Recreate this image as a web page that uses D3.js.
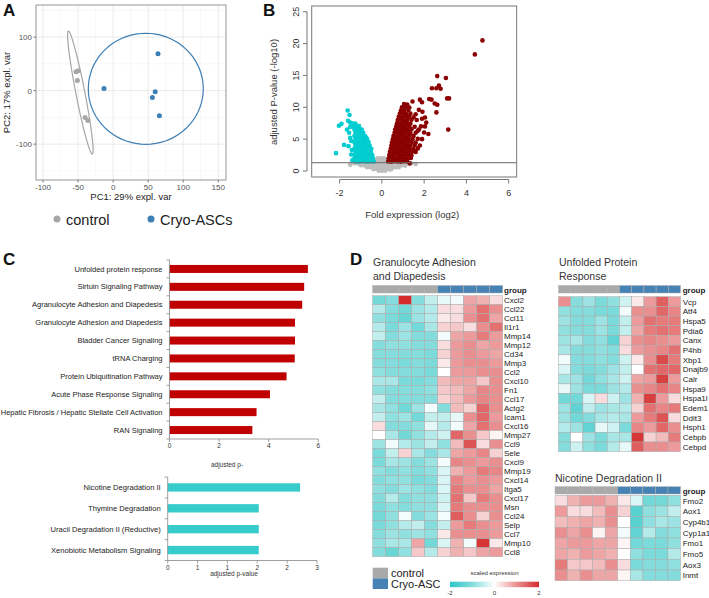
<!DOCTYPE html>
<html><head><meta charset="utf-8">
<script src="https://cdn.jsdelivr.net/npm/d3@7"></script>
<style>body{margin:0;background:#fff} text{font-family:"Liberation Sans",Arial,sans-serif}</style>
</head><body><svg id="fig" width="709" height="598"></svg>
<script>
// ---------------- DATA ----------------
// Panel A: PCA
const pcaControl = [[-53,35.5],[-50,37],[-51,19],[-40,-50],[-36,-56]];
const pcaCryo = [[-13,4],[64,69],[60,-2],[56,-13],[66,-47]];
const pcaEllipses = [
  {group:"control", cx:-46.8, cy:-3.5, ux:-17.1, uy:115, vx:6.3, vy:1.6},
  {group:"Cryo-ASCs", cx:46.6, cy:3.4, ux:82, uy:0, vx:0, vy:103.7}
];
const pcaXTicks = [-100,-50,0,50,100,150];
const pcaXMinor = [-75,-25,25,75,125];
const pcaYTicks = [-100,0,100];
const pcaYMinor = [-150,-50,50,150];
const pcaGroups = ["control","Cryo-ASCs"];

// Panel B: volcano
const volcanoNS = [
[-1.3,1.2],[-1.15,1.2],[-1.0,1.15],[-0.85,1.2],[-0.7,1.2],[-0.55,1.15],[-0.4,1.2],[-0.25,1.2],[-0.1,1.15],[0.05,1.2],[0.2,1.2],[0.35,1.15],[0.5,1.2],[0.65,1.2],[0.8,1.15],[0.95,1.2],[1.1,1.2],[1.25,1.15],[1.4,1.2],
[-1.0,0.9],[-0.85,0.9],[-0.7,0.85],[-0.55,0.9],[-0.4,0.9],[-0.25,0.85],[-0.1,0.9],[0.05,0.9],[0.2,0.85],[0.35,0.9],[0.5,0.9],[0.65,0.85],[0.8,0.9],[0.95,0.9],[1.1,0.85],
[-0.7,0.6],[-0.55,0.6],[-0.4,0.55],[-0.25,0.6],[-0.1,0.6],[0.05,0.55],[0.2,0.6],[0.35,0.6],[0.5,0.55],[0.65,0.6],[0.8,0.6],
[-0.4,0.3],[-0.25,0.3],[-0.1,0.25],[0.05,0.3],[0.2,0.3],[0.35,0.25],[0.45,0.3],
[-0.15,0.05],[0,0.05],[0.15,0.05],
[-0.3,1.6],[-0.15,1.6],[0,1.55],[0.15,1.6],[-0.2,2.0],[-0.05,2.0],[0.1,2.0],[-1.5,1.0],[1.6,1.1]
];
const volcanoDown = [
[-2.17,2.8],[-2.03,7.1],[-1.91,7.4],[-1.62,9.5],[-1.53,8.8],[-1.6,7.9],[-1.79,4.1],[-1.65,6.5],[-1.55,6.0],[-1.5,5.2],[-1.45,4.7],[-1.45,2.6],[-1.42,3.3],[-1.58,3.9],[-1.4,1.7],[-1.5,6.9],[-1.35,7.3],[-1.5,7.6],
[-1.25,1.5],[-1.1,1.45],[-0.95,1.55],[-0.8,1.5],[-0.65,1.45],[-0.5,1.55],[-0.38,1.5],
[-1.3,2.0],[-1.15,2.05],[-1.0,1.95],[-0.85,2.0],[-0.7,2.05],[-0.55,1.95],[-0.42,2.0],
[-1.28,2.5],[-1.12,2.45],[-0.97,2.55],[-0.82,2.5],[-0.68,2.45],[-0.55,2.55],[-0.45,2.5],
[-1.25,3.0],[-1.1,3.05],[-0.95,2.95],[-0.8,3.0],[-0.66,3.05],[-0.52,3.0],
[-1.3,3.5],[-1.15,3.45],[-1.0,3.55],[-0.86,3.5],[-0.72,3.45],[-0.6,3.55],[-0.5,3.5],
[-1.25,4.0],[-1.1,4.05],[-0.95,3.95],[-0.8,4.0],[-0.68,4.05],[-0.58,4.0],
[-1.3,4.5],[-1.15,4.45],[-1.0,4.55],[-0.88,4.5],[-0.75,4.45],[-0.63,4.55],
[-1.25,5.0],[-1.1,5.05],[-0.96,4.95],[-0.83,5.0],[-0.7,5.05],
[-1.3,5.5],[-1.15,5.45],[-1.02,5.55],[-0.9,5.5],[-0.78,5.45],
[-1.25,6.0],[-1.12,6.05],[-1.0,5.95],[-0.88,6.0],
[-1.3,6.5],[-1.18,6.45],[-1.05,6.55],[-0.95,6.5],
[-1.35,7.0],[-1.2,6.95],[-1.08,7.05],
[-1.4,7.5],[-1.25,7.45]
];
const volcanoUp = [
[0.3,1.5],[0.45,1.45],[0.6,1.55],[0.75,1.5],[0.9,1.45],[1.05,1.55],[1.2,1.5],[1.32,1.2],
[0.32,2.0],[0.47,2.05],[0.62,1.95],[0.77,2.0],[0.92,2.05],[1.07,1.95],[1.22,2.0],[1.37,2.05],
[0.35,2.5],[0.5,2.45],[0.65,2.55],[0.8,2.5],[0.95,2.45],[1.1,2.55],[1.25,2.5],[1.4,2.45],
[0.38,3.0],[0.53,3.05],[0.68,2.95],[0.83,3.0],[0.98,3.05],[1.13,2.95],[1.28,3.0],[1.43,3.05],[1.6,3.0],
[0.42,3.5],[0.57,3.45],[0.72,3.55],[0.87,3.5],[1.02,3.45],[1.17,3.55],[1.32,3.5],[1.5,3.45],[1.7,3.55],
[0.45,4.0],[0.6,4.05],[0.75,3.95],[0.9,4.0],[1.05,4.05],[1.2,3.95],[1.35,4.0],[1.55,4.05],[1.8,4.0],
[0.48,4.5],[0.63,4.45],[0.78,4.55],[0.93,4.5],[1.08,4.45],[1.23,4.55],[1.4,4.5],[1.6,4.45],
[0.52,5.0],[0.67,5.05],[0.82,4.95],[0.97,5.0],[1.12,5.05],[1.27,4.95],[1.45,5.0],[1.7,5.05],[1.9,5.0],
[0.55,5.5],[0.7,5.45],[0.85,5.55],[1.0,5.5],[1.15,5.45],[1.3,5.55],[1.5,5.5],
[0.6,6.0],[0.75,6.05],[0.9,5.95],[1.05,6.0],[1.2,6.05],[1.35,5.95],[1.6,6.0],[2.0,6.05],
[0.63,6.5],[0.78,6.45],[0.93,6.55],[1.08,6.5],[1.23,6.45],[1.4,6.55],[1.75,6.5],
[0.68,7.0],[0.83,7.05],[0.98,6.95],[1.13,7.0],[1.3,7.05],[1.55,6.95],[1.85,7.0],
[0.72,7.5],[0.87,7.45],[1.02,7.55],[1.18,7.5],[1.35,7.45],
[0.75,8.0],[0.9,8.05],[1.05,7.95],[1.2,8.0],[1.4,8.05],[1.65,8.0],
[0.8,8.5],[0.95,8.45],[1.1,8.55],[1.28,8.5],[1.5,8.45],
[0.85,9.0],[1.0,9.05],[1.15,8.95],[1.35,9.0],
[0.9,9.5],[1.05,9.45],[1.25,9.55],
[0.95,10.0],[1.12,10.05],[1.3,9.95],
[1.05,10.5],[1.2,10.45],
[1.9,10.8],[1.75,9.6],[1.6,8.9],[1.9,8.2],[2.1,7.6],[1.45,10.9],[1.7,6.3],[2.2,5.8],[1.80,11.2],[1.92,9.3],[2.04,8.4],[2.04,7.0],[2.24,11.3],[2.35,11.2],[2.50,10.6],[2.37,13.0],[2.58,13.0],[2.70,13.4],[2.78,12.9],[2.62,14.9],[3.03,14.6],[3.09,11.4],[3.18,11.4],[2.58,9.2],[2.62,10.4],[3.14,6.5],[4.40,18.3],[4.76,20.5]
];
const volcanoThreshold = 1.3;
const volcanoXTicks = [-2,0,2,4,6];
const volcanoYTicks = [0,5,10,15,20,25];

// Panel C: pathway enrichment
const pathwaysUp = ["Unfolded protein response","Sirtuin Signaling Pathway","Agranulocyte Adhesion and Diapedesis","Granulocyte Adhesion and Diapedesis","Bladder Cancer Signaling","tRNA Charging","Protein Ubiquitination Pathway","Acute Phase Response Signaling","Hepatic Fibrosis / Hepatic Stellate Cell Activation","RAN Signaling"];
const pathwaysUpValues = [5.58,5.43,5.35,5.06,5.06,5.05,4.72,4.05,3.51,3.34];
const pathwaysUpTicks = [0,2,4,6];
const pathwaysDown = ["Nicotine Degradation II","Thymine Degradation","Uracil Degradation II (Reductive)","Xenobiotic Metabolism Signaling"];
const pathwaysDownValues = [2.66,1.83,1.83,1.83];
const pathwaysDownTicks = [0,0.6,1.2,1.8,2.4,3.0];

// Panel D: heatmaps
const samples = ["ctl1","ctl2","ctl3","ctl4","ctl5","cryo1","cryo2","cryo3","cryo4","cryo5"];
const sampleGroups = ["control","control","control","control","control","Cryo-ASC","Cryo-ASC","Cryo-ASC","Cryo-ASC","Cryo-ASC"];
const granulocyteGenes = ["Cxcl2","Ccl22","Ccl11","Il1r1","Mmp14","Mmp12","Cd34","Mmp3","Ccl2","Cxcl10","Fn1","Ccl17","Actg2","Icam1","Cxcl16","Mmp27","Ccl9","Sele","Cxcl9","Mmp19","Cxcl14","Itga5","Cxcl17","Msn","Ccl24","Selp","Ccl7","Mmp10","Ccl8"];
const granulocyteExpr = [
[-1.2,-1.0,2.2,-1.0,-0.5,-0.2,-0.1,0.8,0.7,0.3],
[-0.6,-1.0,-1.2,-0.8,-0.6,0.3,0.3,0.9,1.3,1.0],
[-0.9,-1.1,-1.3,-0.8,-0.6,0.2,0.3,1.0,1.3,0.8],
[-0.6,-1.1,-0.8,-1.2,-0.7,0.4,0.5,0.3,1.0,1.3],
[-0.5,-1.0,-0.8,-1.0,-1.0,-0.1,0.8,0.9,1.2,0.9],
[-1.0,-0.9,-0.9,-1.0,-1.0,0.3,0.9,1.0,0.8,0.9],
[-1.0,-1.0,-1.0,-1.0,-1.1,0.4,0.9,1.0,0.9,0.8],
[-1.0,-1.0,-1.1,-1.0,-1.1,0.2,0.9,1.0,1.0,0.9],
[-0.9,-1.0,-1.0,-1.0,-1.1,0.0,0.9,0.9,1.0,1.0],
[-0.7,-0.7,-1.1,-1.1,-1.0,0.6,0.8,0.8,0.5,1.0],
[-0.9,-1.0,-1.0,-1.0,-0.9,0.5,0.6,0.8,1.1,1.0],
[-0.5,-1.0,-1.0,-1.0,-1.0,0.4,0.6,0.9,1.1,1.0],
[-0.7,-0.9,-1.2,-0.8,-0.1,-1.0,0.6,0.4,1.4,1.0],
[-0.5,-0.9,-0.8,-1.2,-0.5,-0.5,-0.2,1.0,1.4,0.9],
[0.3,-1.0,-1.0,-0.9,-0.2,-0.6,-0.1,0.8,1.3,1.0],
[0.0,-0.7,-1.2,-0.9,-0.6,-0.4,1.4,1.0,0.5,0.1],
[-0.8,-0.1,-0.6,-0.8,-0.5,-0.9,0.6,1.6,0.3,1.0],
[-1.1,-0.5,0.4,-0.7,-1.0,-0.7,0.8,0.9,1.1,0.4],
[-1.1,-0.7,-0.8,-1.0,-0.8,-0.1,1.1,1.0,0.9,1.0],
[-0.9,-1.0,-0.9,-1.0,-0.9,-0.3,0.7,0.9,1.2,1.1],
[-1.0,-0.9,-0.9,-1.1,-1.0,-0.3,1.1,0.9,1.0,0.9],
[-0.9,-1.0,-0.8,-0.9,-1.0,-0.3,1.2,1.0,1.0,0.8],
[-1.0,-0.6,-1.0,-0.9,-0.9,-0.4,1.3,0.5,1.2,1.0],
[-1.1,-0.9,-1.0,-0.9,-0.9,-0.3,1.2,1.0,1.0,1.0],
[-1.2,-0.9,-0.1,-1.0,-0.8,-0.1,1.5,1.0,0.4,1.0],
[-1.1,-0.9,-0.6,-0.5,-1.0,-0.5,0.9,1.2,1.0,0.9],
[-1.0,-0.8,-0.9,-0.8,-0.9,0.2,1.0,1.0,1.0,0.9],
[-0.9,-0.7,-0.7,0.8,-1.2,-0.3,0.7,-0.1,1.9,0.2],
[-1.0,-1.3,-0.9,0.5,-0.6,0.4,0.7,0.5,0.8,0.9]
];
const unfoldedGenes = ["Vcp","Atf4","Hspa5","Pdia6","Canx","P4hb","Xbp1","Dnajb9","Calr","Hspa9","Hspa1l","Edem1","Ddit3","Hsph1","Cebpb","Cebpd"];
const unfoldedExpr = [
[1.0,-1.0,-0.8,-1.1,-0.9,-0.4,0.2,0.9,1.5,0.9],
[-0.9,-1.0,-1.0,-1.1,-1.1,-0.1,1.0,1.0,1.4,1.1],
[-0.8,-1.0,-1.0,-0.8,-1.1,-0.5,0.9,1.3,1.2,1.2],
[-0.9,-1.0,-1.0,-0.8,-1.1,-0.5,0.8,1.2,1.3,1.2],
[-0.8,-0.7,-1.0,-0.9,-1.4,0.4,1.0,1.1,1.0,0.9],
[-0.7,-1.0,-1.0,-0.9,-1.0,0.3,0.9,1.0,1.1,1.3],
[-0.1,-1.0,-1.0,-0.9,-1.0,-0.4,0.2,1.0,1.7,1.2],
[-0.3,-1.0,-1.1,-1.0,-0.8,-0.5,0.0,1.3,1.4,1.4],
[-0.7,-0.8,-1.2,-0.9,-0.7,-0.4,0.8,0.9,1.8,0.9],
[-0.2,-0.8,-1.1,-1.1,-0.8,-0.6,1.0,1.1,1.3,1.1],
[-1.2,-1.2,-0.3,0.3,-0.4,-0.8,0.7,1.8,0.9,0.3],
[-0.8,-1.4,-0.5,-0.8,-0.7,-0.6,0.4,1.3,1.1,1.2],
[-0.8,-1.2,-1.0,-0.7,-0.6,-0.7,0.9,1.2,1.6,0.3],
[-0.6,-0.8,-1.4,-0.2,-0.4,-1.1,1.1,0.9,1.4,1.0],
[-1.0,0.0,-0.8,-1.1,-0.7,-0.7,1.9,0.4,0.6,1.2],
[-1.0,-0.4,-0.9,-1.1,-0.6,-0.2,1.5,1.0,1.0,0.9]
];
const nicotineGenes = ["Fmo2","Aox1","Cyp4b1","Cyp1a1","Fmo1","Fmo5","Aox3","Inmt"];
const nicotineExpr = [
[0.3,0.7,0.9,0.9,0.7,0.2,-0.3,-1.2,-1.2,-0.9],
[0.9,0.3,0.3,0.6,1.0,0.4,-1.5,-0.9,-0.8,-0.5],
[0.6,0.7,0.8,0.7,1.0,0.0,-1.5,-0.9,-0.7,-0.8],
[1.0,0.8,1.0,0.1,0.8,-0.1,-1.4,-0.6,-1.0,-0.9],
[0.8,0.9,0.9,0.8,0.8,0.1,-1.2,-1.1,-1.1,-0.9],
[0.8,0.7,0.9,0.8,0.7,0.0,-0.9,-1.1,-1.1,-0.6],
[1.2,0.5,0.5,0.6,1.0,0.3,-1.1,-1.0,-1.0,-0.9],
[1.0,0.7,1.0,0.8,0.8,0.1,-0.7,-1.0,-1.0,-1.0]
];
const legendGroups = ["control","Cryo-ASC"];
const scaleLegendTicks = [-2,0,2];

// ---------------- DRAW ----------------
const svg = d3.select("#fig");
function lbl(t,x,y,size){svg.append("text").attr("x",x).attr("y",y).attr("font-size",size).attr("font-weight","bold").attr("fill","#111").text(t);}
lbl("A",3,16,17); lbl("B",263,16,17); lbl("C",3,265,17); lbl("D",350,265,17);

// ---- Panel A ----
(function(){
  const g = svg.append("g");
  const x = d3.scaleLinear([-110,161],[36,226]);
  const y = d3.scaleLinear([-167,160],[180,5]);
  const [x0,x1] = x.range(), [y1,y0] = y.range();
  g.selectAll(".gmx").data(pcaXMinor).join("line").attr("x1",x).attr("x2",x).attr("y1",y0).attr("y2",y1).attr("stroke","#f3f3f3").attr("stroke-width",0.6);
  g.selectAll(".gmy").data(pcaYMinor).join("line").attr("y1",y).attr("y2",y).attr("x1",x0).attr("x2",x1).attr("stroke","#f3f3f3").attr("stroke-width",0.6);
  g.selectAll(".gMx").data(pcaXTicks).join("line").attr("x1",x).attr("x2",x).attr("y1",y0).attr("y2",y1).attr("stroke","#e6e6e6").attr("stroke-width",0.8);
  g.selectAll(".gMy").data(pcaYTicks).join("line").attr("y1",y).attr("y2",y).attr("x1",x0).attr("x2",x1).attr("stroke","#e6e6e6").attr("stroke-width",0.8);
  g.append("rect").attr("x",x0).attr("y",y0).attr("width",x1-x0).attr("height",y1-y0).attr("fill","none").attr("stroke","#8a8a8a").attr("stroke-width",0.9);
  g.selectAll(".tx").data(pcaXTicks).join("line").attr("x1",x).attr("x2",x).attr("y1",y1).attr("y2",y1+2.5).attr("stroke","#777");
  g.selectAll(".txl").data(pcaXTicks).join("text").attr("x",x).attr("y",y1+9.5).attr("text-anchor","middle").attr("font-size",8).attr("fill","#555").text(d=>d);
  g.selectAll(".ty").data(pcaYTicks).join("line").attr("y1",y).attr("y2",y).attr("x1",x0-2.5).attr("x2",x0).attr("stroke","#777");
  g.selectAll(".tyl").data(pcaYTicks).join("text").attr("x",x0-4).attr("y",d=>y(d)+3).attr("text-anchor","end").attr("font-size",8).attr("fill","#555").text(d=>d);
  g.append("text").attr("x",(x0+x1)/2).attr("y",200).attr("text-anchor","middle").attr("font-size",9.5).attr("fill","#222").text("PC1: 29% expl. var");
  g.append("text").attr("transform",`translate(10,${(y0+y1)/2}) rotate(-90)`).attr("text-anchor","middle").attr("font-size",9.5).attr("fill","#222").text("PC2: 17% expl. var");
  const col = d3.scaleOrdinal(pcaGroups,["#a6a6a6","#3d7fb5"]);
  const line = d3.line().x(d=>x(d[0])).y(d=>y(d[1]));
  pcaEllipses.forEach(e=>{
    const pts = d3.range(0,73).map(i=>{const t=i/72*2*Math.PI;return [e.cx+Math.cos(t)*e.ux+Math.sin(t)*e.vx, e.cy+Math.cos(t)*e.uy+Math.sin(t)*e.vy];});
    g.append("path").attr("d",line(pts)).attr("fill","none").attr("stroke",col(e.group)).attr("stroke-width",1.2);
  });
  g.selectAll(".pc").data(pcaControl).join("circle").attr("cx",d=>x(d[0])).attr("cy",d=>y(d[1])).attr("r",2.5).attr("fill",col("control"));
  g.selectAll(".pcr").data(pcaCryo).join("circle").attr("cx",d=>x(d[0])).attr("cy",d=>y(d[1])).attr("r",2.5).attr("fill",col("Cryo-ASCs"));
  const lx = d3.scaleOrdinal(pcaGroups,[57,151]);
  g.selectAll(".ld").data(pcaGroups).join("circle").attr("cx",lx).attr("cy",219).attr("r",3.5).attr("fill",col);
  g.selectAll(".lt").data(pcaGroups).join("text").attr("x",d=>lx(d)+9).attr("y",224.5).attr("font-size",14.5).attr("fill","#222").text(d=>d);
})();

// ---- Panel B ----
(function(){
  const g = svg.append("g");
  const x = d3.scaleLinear([-3.32,6.38],[311.7,516.7]);
  const y = d3.scaleLinear([-0.94,25.9],[177,6]);
  const [x0,x1] = x.range(), [y1,y0] = y.range();
  const pts = (data,c)=>g.append("g").selectAll("circle").data(data).join("circle").attr("cx",d=>x(d[0])).attr("cy",d=>y(d[1])).attr("r",2.3).attr("fill",c);
  pts(volcanoNS,"#bebebe"); pts(volcanoDown,"#00cdd0"); pts(volcanoUp,"#8b0000");
  g.append("line").attr("x1",x0).attr("x2",x1).attr("y1",y(volcanoThreshold)).attr("y2",y(volcanoThreshold)).attr("stroke","#666").attr("stroke-width",1);
  g.append("rect").attr("x",x0).attr("y",y0).attr("width",x1-x0).attr("height",y1-y0).attr("fill","none").attr("stroke","#777").attr("stroke-width",1);
  const ax = 307, ay = 179.5;
  g.append("line").attr("x1",ax).attr("x2",ax).attr("y1",y(volcanoYTicks[0])).attr("y2",y(volcanoYTicks[volcanoYTicks.length-1])).attr("stroke","#777");
  g.selectAll(".yt").data(volcanoYTicks).join("line").attr("x1",ax-4).attr("x2",ax).attr("y1",y).attr("y2",y).attr("stroke","#777");
  g.selectAll(".ytl").data(volcanoYTicks).join("text").attr("transform",d=>`translate(299,${y(d)}) rotate(-90)`).attr("text-anchor","middle").attr("font-size",9).attr("fill","#333").text(d=>d);
  g.append("line").attr("y1",ay).attr("y2",ay).attr("x1",x(volcanoXTicks[0])).attr("x2",x(volcanoXTicks[volcanoXTicks.length-1])).attr("stroke","#777");
  g.selectAll(".xt").data(volcanoXTicks).join("line").attr("y1",ay).attr("y2",ay+4).attr("x1",x).attr("x2",x).attr("stroke","#777");
  g.selectAll(".xtl").data(volcanoXTicks).join("text").attr("x",x).attr("y",196).attr("text-anchor","middle").attr("font-size",9).attr("fill","#333").text(d=>d);
  g.append("text").attr("x",(x0+x1)/2-2).attr("y",218).attr("text-anchor","middle").attr("font-size",9.5).attr("fill","#333").text("Fold expression (log2)");
  g.append("text").attr("transform",`translate(277,92) rotate(-90)`).attr("text-anchor","middle").attr("font-size",9.5).attr("fill","#333").text("adjusted P-value (-log10)");
})();

// ---- Panel C ----
function barChart(cats, vals, ticks, xr, yr, pin, color, fs, tickFmt){
  const g = svg.append("g");
  const x = d3.scaleLinear([ticks[0],ticks[ticks.length-1]], xr);
  const y = d3.scaleBand(cats, yr).paddingInner(pin).paddingOuter(pin/2);
  g.selectAll("rect").data(cats).join("rect").attr("x",x(0)).attr("y",d=>y(d)).attr("height",y.bandwidth()).attr("width",(d,i)=>x(vals[i])-x(0)).attr("fill",color);
  g.append("line").attr("x1",x(0)).attr("x2",x(0)).attr("y1",yr[0]).attr("y2",yr[1]).attr("stroke","#888").attr("stroke-width",0.8);
  const bounds = d3.range(cats.length+1).map(i=>yr[0]+i*y.step());
  g.selectAll(".yt").data(bounds).join("line").attr("x1",x(0)-3).attr("x2",x(0)).attr("y1",d=>d).attr("y2",d=>d).attr("stroke","#888").attr("stroke-width",0.8);
  g.selectAll(".cl").data(cats).join("text").attr("x",x(0)-7).attr("y",d=>y(d)+y.bandwidth()/2+2.6).attr("text-anchor","end").attr("font-size",fs).attr("fill","#222").text(d=>d);
  g.append("line").attr("x1",xr[0]).attr("x2",xr[1]).attr("y1",yr[1]).attr("y2",yr[1]).attr("stroke","#888").attr("stroke-width",0.8);
  g.selectAll(".xt").data(ticks).join("line").attr("x1",x).attr("x2",x).attr("y1",yr[1]).attr("y2",yr[1]+3).attr("stroke","#888").attr("stroke-width",0.8);
  g.selectAll(".xtl").data(ticks).join("text").attr("x",x).attr("y",yr[1]+9).attr("text-anchor","middle").attr("font-size",6.5).attr("fill","#333").text(tickFmt);
  return x;
}
barChart(pathwaysUp, pathwaysUpValues, pathwaysUpTicks, [169.5,318.3],[260,439],0.553,"#c00000",7.5,d=>d);
svg.append("text").attr("x",227).attr("y",467).attr("text-anchor","middle").attr("font-size",6.5).attr("fill","#333").text("adjusted p-");
barChart(pathwaysDown, pathwaysDownValues, pathwaysDownTicks, [167.7,317],[477,560.5],0.6,"#36cccc",7.6,d3.format(".0f"));
svg.append("text").attr("x",234).attr("y",576).attr("text-anchor","middle").attr("font-size",6.5).attr("fill","#333").text("adjusted p-value");

// ---- Panel D ----
const heatColor = d3.scaleLinear([-2,-1,0,1,2],["#2cc6c6","#84dcdc","#ffffff","#ea8f90","#d42c2c"]).clamp(true);
const groupColor = d3.scaleOrdinal(legendGroups,["#a9a9a9","#4682b4"]);
function heatmap(genes, expr, xr, yr, gy, labelX, title, tx, ty, lsize){
  const g = svg.append("g");
  const x = d3.scaleBand(samples, xr);
  const y = d3.scaleBand(genes, yr);
  g.selectAll(".gb").data(samples).join("rect").attr("x",x).attr("y",gy[0]).attr("width",x.bandwidth()).attr("height",gy[1]-gy[0]).attr("fill",(d,i)=>groupColor(sampleGroups[i])).attr("stroke","#b0b0b0").attr("stroke-width",0.5);
  g.append("text").attr("x",labelX).attr("y",gy[1]-0.5).attr("font-size",8).attr("font-weight","bold").attr("fill","#222").text("group");
  const cells = genes.flatMap((gn,r)=>samples.map((s,c)=>({gn,s,v:expr[r][c]})));
  g.selectAll(".c").data(cells).join("rect").attr("x",d=>x(d.s)).attr("y",d=>y(d.gn)).attr("width",x.bandwidth()).attr("height",y.bandwidth()).attr("fill",d=>heatColor(d.v)).attr("stroke","#aaaaaa").attr("stroke-width",0.5);
  g.selectAll(".rl").data(genes).join("text").attr("x",labelX).attr("y",d=>y(d)+y.bandwidth()/2+3).attr("font-size",lsize).attr("fill","#222").text(d=>d);
  title.forEach((t,i)=>g.append("text").attr("x",tx).attr("y",ty+i*13.5).attr("font-size",10.5).attr("fill","#333").text(t));
}
heatmap(granulocyteGenes, granulocyteExpr, [372.7,502.7],[295.7,556.7],[285.5,293],504,["Granulocyte Adhesion","and Diapedesis"],373,266,8);
heatmap(unfoldedGenes, unfoldedExpr, [558.5,680.5],[296.7,451.7],[285.5,293],682.7,["Unfolded Protein","Response"],559,266,8);
heatmap(nicotineGenes, nicotineExpr, [555,680.5],[495.3,580.7],[486.7,494],682.7,["Nicotine Degradation II"],555,481.5,8);

// legend
(function(){
  const g = svg.append("g");
  const ly = d3.scaleBand(legendGroups,[567.7,589]);
  g.selectAll("rect").data(legendGroups).join("rect").attr("x",372.7).attr("y",ly).attr("width",15.3).attr("height",ly.bandwidth()).attr("fill",groupColor);
  g.selectAll("text").data(legendGroups).join("text").attr("x",391).attr("y",d=>ly(d)+ly.bandwidth()/2+4).attr("font-size",11).attr("fill","#222").text(d=>d);
  const cx = d3.scaleLinear([-2,2],[450,539]);
  const grad = svg.append("defs").append("linearGradient").attr("id","hg");
  heatColor.domain().forEach((v,i)=>grad.append("stop").attr("offset",(v+2)/4).attr("stop-color",heatColor.range()[i]));
  g.append("rect").attr("x",cx(-2)).attr("y",581.7).attr("width",cx(2)-cx(-2)).attr("height",5.5).attr("fill","url(#hg)");
  g.append("text").attr("x",cx(0)).attr("y",575).attr("text-anchor","middle").attr("font-size",6).attr("fill","#333").text("scaled expression");
  g.selectAll(".st").data(scaleLegendTicks).join("text").attr("x",cx).attr("y",595).attr("text-anchor","middle").attr("font-size",6).attr("fill","#333").text(d=>d);
})();
</script></body></html>
